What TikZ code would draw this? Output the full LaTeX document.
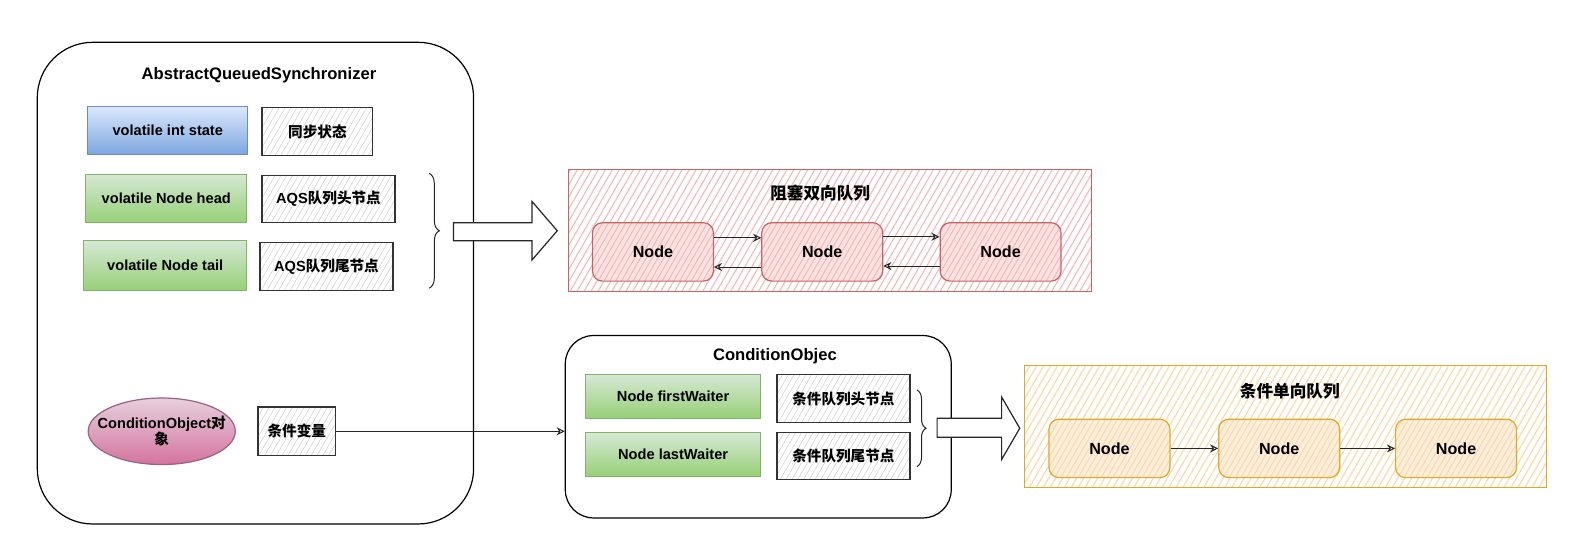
\documentclass[tikz,border=0pt]{standalone}
\usepackage{fontspec}
\setmainfont{Liberation Sans}
\newfontfamily\cjk{Noto Sans CJK SC}
\usetikzlibrary{shapes.geometric,patterns.meta,decorations.pathreplacing,arrows.meta}
\definecolor{blueT}{HTML}{DAE8FC}
\definecolor{blueB}{HTML}{7EA6E0}
\definecolor{blueS}{HTML}{6C8EBF}
\definecolor{greenT}{HTML}{D5E8D4}
\definecolor{greenB}{HTML}{97D077}
\definecolor{greenS}{HTML}{82B366}
\definecolor{pinkT}{HTML}{E6D0DE}
\definecolor{pinkB}{HTML}{D5739D}
\definecolor{pinkS}{HTML}{996185}
\definecolor{redS}{HTML}{C96363}
\definecolor{redH}{HTML}{F4B8B8}
\definecolor{redF}{HTML}{FCE3E2}
\definecolor{orgS}{HTML}{E0A824}
\definecolor{orgH}{HTML}{FBD8A8}
\definecolor{orgF}{HTML}{FEEEDB}
\definecolor{grayH}{HTML}{D4D4D4}
\definecolor{darkS}{HTML}{333333}
\newcommand\fbody{\fontsize{14.5}{17}\selectfont\bfseries}
\newcommand\ftitle{\fontsize{16.5}{19}\selectfont\bfseries}
\newcommand\fnode{\fontsize{16}{19}\selectfont\bfseries}
\tikzset{
  frame/.style={draw=black, line width=1.2pt},
  field/.style={draw=#1S, line width=1pt, top color=#1T, bottom color=#1B, font=\fbody, inner sep=0pt},
  note/.style={draw=darkS, line width=1.2pt, pattern={Lines[angle=60,distance=5pt,line width=0.6pt]}, pattern color=grayH, font=\fbody, inner sep=0pt},
  queue/.style={draw=#1S, line width=1.2pt, pattern={Lines[angle=60,distance=6pt,line width=1.1pt]}, pattern color=#1H},
  qnode/.style={draw=#1S, line width=1.2pt, rounded corners=10pt, preaction={fill=#1F}, pattern={Lines[angle=60,distance=5pt,line width=1pt]}, pattern color=#1H, font=\fnode, minimum width=120pt, minimum height=58pt, inner sep=0pt},
  link/.style={draw=black!85, line width=1pt, -{Stealth[open,length=8pt,width=8pt]}},
  bigarrow/.style={draw=black!85, line width=1.2pt, fill=white, line join=miter},
  bracestyle/.style={draw=black!85, line width=1pt, decorate},
}
\begin{document}
\begin{tikzpicture}[x=1pt,y=-1pt]
\useasboundingbox (0,0) rectangle (1568,537);
% AQS frame
\node[frame, rounded corners=55pt, minimum width=433pt, minimum height=478pt] (aqs) at (253.5,281) {};
\node[font=\ftitle] (aqst) at (257,75) {AbstractQueuedSynchronizer};
\node[field=blue, minimum width=159pt, minimum height=47pt] (state) at (166.5,129.5) {volatile int state};
\node[note, minimum width=110pt, minimum height=47pt] (staten) at (315,130.5) {\cjk 同步状态};
\node[field=green, minimum width=160pt, minimum height=48pt] (head) at (165,197) {volatile Node head};
\node[note, minimum width=132pt, minimum height=47pt] (headn) at (326,197.5) {AQS{\cjk 队列头节点}};
\node[field=green, minimum width=162pt, minimum height=49pt] (tail) at (164,263.5) {volatile Node tail};
\node[note, minimum width=132pt, minimum height=47pt] (tailn) at (324,264.5) {AQS{\cjk 队列尾节点}};
\draw[bracestyle, decoration={brace, amplitude=10pt}] (426,172) -- (426,286);
\draw[bigarrow] (450,221) -- (528,221) -- (528,200) -- (553,229) -- (528,258) -- (528,239) -- (450,239) -- cycle;
% blocking queue
\node[queue=red, minimum width=519pt, minimum height=121pt] (bq) at (824,228.5) {};
\node[font=\ftitle] (bqt) at (814,192) {\cjk 阻塞双向队列};
\node[qnode=red] (r1) at (648,250) {Node};
\node[qnode=red] (r2) at (816,250) {Node};
\node[qnode=red] (r3) at (993,250) {Node};
\draw[link] ([yshift=14pt]r1.east) -- ([yshift=14pt]r2.west);
\draw[link] ([yshift=-15pt]r2.west) -- ([yshift=-15pt]r1.east);
\draw[link] ([yshift=15pt]r2.east) -- ([yshift=15pt]r3.west);
\draw[link] ([yshift=-14pt]r3.west) -- ([yshift=-14pt]r2.east);
% condition object
\node[ellipse, draw=pinkS, line width=1.2pt, top color=pinkT, bottom color=pinkB, minimum width=146pt, minimum height=66pt, inner sep=0pt] (cobj) at (160.5,428) {};
\node[align=center, font=\fbody, inner sep=0pt] (cobjt) at (cobj.center) {ConditionObject{\cjk 对}\\[-1pt]{\cjk 象}};
\node[note, minimum width=77pt, minimum height=48pt] (cvar) at (294.5,428) {\cjk 条件变量};
\node[frame, rounded corners=28pt, minimum width=383pt, minimum height=181pt] (co) at (752.5,423.5) {};
\node[font=\ftitle] (cot) at (769,353) {ConditionObjec};
\draw[link] (cvar.east) -- (cvar.east -| co.west);
\node[field=green, minimum width=173pt, minimum height=43pt] (fw) at (668,393.5) {Node firstWaiter};
\node[field=green, minimum width=173pt, minimum height=43pt] (lw) at (668,451) {Node lastWaiter};
\node[note, minimum width=132pt, minimum height=47pt] (fwn) at (837,395.5) {\cjk 条件队列头节点};
\node[note, minimum width=132pt, minimum height=46pt] (lwn) at (837,452.5) {\cjk 条件队列尾节点};
\draw[bracestyle, decoration={brace, amplitude=9pt}] (910,387) -- (910,463);
\draw[bigarrow] (930,415) -- (994,415) -- (994,394) -- (1012,425) -- (994,456) -- (994,434) -- (930,434) -- cycle;
% condition queue
\node[queue=org, minimum width=518pt, minimum height=121pt] (cq) at (1276,423.5) {};
\node[font=\ftitle] (cqt) at (1280,388) {\cjk 条件单向队列};
\node[qnode=org] (o1) at (1101,445) {Node};
\node[qnode=org] (o2) at (1269.5,445) {Node};
\node[qnode=org] (o3) at (1445,445) {Node};
\draw[link] (o1) -- (o2);
\draw[link] (o2) -- (o3);
\end{tikzpicture}
\end{document}
